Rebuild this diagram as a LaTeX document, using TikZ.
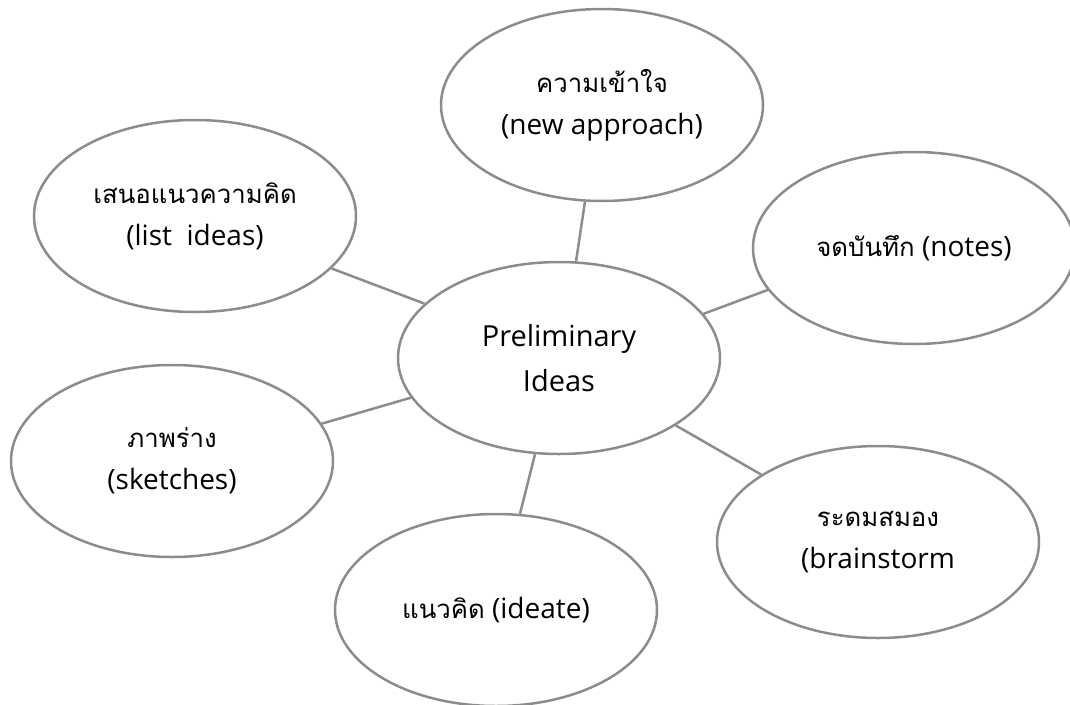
\documentclass[tikz,border=0pt]{standalone}
\usepackage{fontspec}
\usepackage{xcolor}
\usepackage{tikz}
\usetikzlibrary{shapes,positioning}
\setmainfont{Open Sans}
\newfontfamily\thaifont[Script=Thai,Scale=0.92]{Loma}
\definecolor{edgegray}{RGB}{140,140,140}
\tikzset{
    idea/.style={ellipse, draw=edgegray, line width=2.5pt, fill=white, minimum width=322pt, minimum height=192pt, inner sep=0pt, align=center, font=\fontsize{28}{42}\selectfont},
    link/.style={draw=edgegray, line width=2.5pt}
}
\begin{document}
\begin{tikzpicture}[x=1pt,y=-1pt]
    \useasboundingbox (0,0) rectangle (1070,704);

    % Central idea
    \node[idea, font=\fontsize{29}{45}\selectfont] (prelim) at (559,358) {Preliminary\\Ideas};

    % Outer ideas
    \node[idea] (approach) at (602,105) {{\thaifont ความเข้าใจ}\\(new approach)};
    \node[idea] (list) at (195,216) {{\thaifont เสนอแนวความคิด}\\(list~~ideas)};
    \node[idea] (notes) at (914,248) {{\thaifont จดบันทึก} (notes)};
    \node[idea] (sketch) at (172,461) {{\thaifont ภาพร่าง}\\(sketches)};
    \node[idea] (ideate) at (496,610) {{\thaifont แนวคิด} (ideate)};
    \node[idea] (storm) at (878,542) {{\thaifont ระดมสมอง}\\(brainstorm};

    % Links
    \draw[link] (prelim.80.5) -- (approach.260);
    \draw[link] (prelim.158.7) -- (list.339);
    \draw[link] (prelim.17.7) -- (notes.196.6);
    \draw[link] (prelim.195.2) -- (sketch.14.6);
    \draw[link] (prelim.256) -- (ideate.76.5);
    \draw[link] (prelim.330) -- (storm.150);

\end{tikzpicture}
\end{document}
